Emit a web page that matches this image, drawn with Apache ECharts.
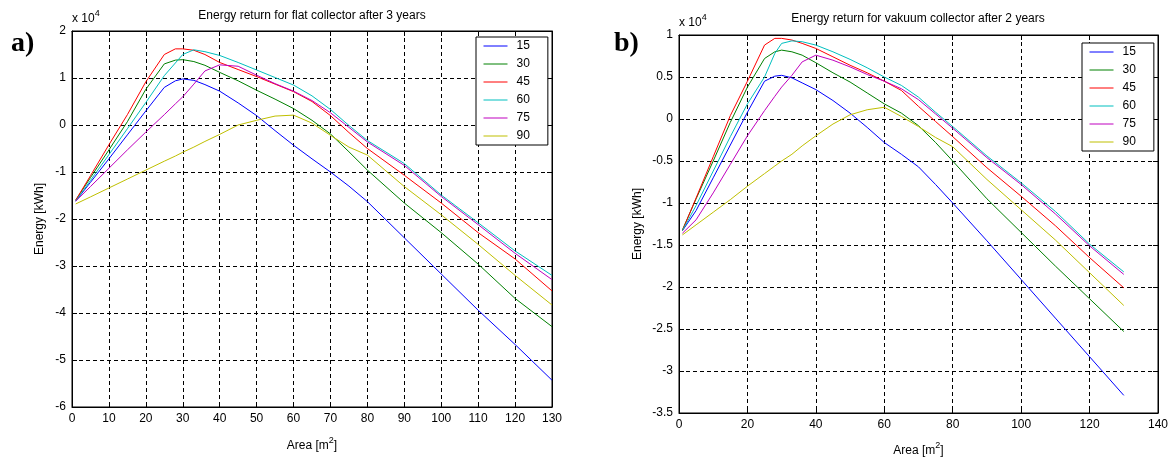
<!DOCTYPE html>
<html>
<head>
<meta charset="utf-8">
<script src="https://cdn.jsdelivr.net/npm/echarts@6/dist/echarts.min.js"></script>
<style>
html,body{margin:0;padding:0;background:#fff;}
#c{width:1176px;height:464px;}
</style>
</head>
<body>
<div id="c"></div>
<script>
// Area [m^2] sample positions (shared by all curves)
const areas = [1, 5, 10, 15, 20, 25, 28, 30, 33, 36, 40, 45, 50, 55, 60, 65, 70, 75, 80, 90, 100, 110, 120, 130];
const seriesNames = ['15', '30', '45', '60', '75', '90'];

// a) flat collector after 3 years, energy in units of 10^4 kWh
const flat15 = [-1.62, -1.22, -0.72, -0.21, 0.30, 0.80, 0.94, 0.98, 0.95, 0.86, 0.72, 0.47, 0.20, -0.12, -0.43, -0.72, -1.00, -1.30, -1.63, -2.40, -3.17, -3.94, -4.67, -5.43];
const flat30 = [-1.60, -1.12, -0.53, 0.07, 0.76, 1.30, 1.38, 1.39, 1.35, 1.27, 1.12, 0.94, 0.74, 0.55, 0.35, 0.10, -0.19, -0.57, -0.96, -1.66, -2.29, -2.96, -3.69, -4.29];
const flat45 = [-1.60, -1.08, -0.42, 0.22, 0.92, 1.50, 1.62, 1.62, 1.59, 1.50, 1.33, 1.18, 1.03, 0.87, 0.71, 0.50, 0.20, -0.16, -0.50, -1.07, -1.66, -2.29, -2.85, -3.53];
const flat60 = [-1.62, -1.18, -0.63, -0.08, 0.48, 1.05, 1.32, 1.50, 1.60, 1.56, 1.48, 1.33, 1.17, 1.01, 0.85, 0.62, 0.33, -0.01, -0.33, -0.82, -1.49, -2.08, -2.68, -3.20];
const flat75 = [-1.62, -1.31, -0.92, -0.53, -0.15, 0.22, 0.45, 0.60, 0.87, 1.15, 1.28, 1.25, 1.06, 0.88, 0.72, 0.52, 0.26, -0.05, -0.36, -0.86, -1.52, -2.12, -2.73, -3.29];
const flat90 = [-1.68, -1.53, -1.34, -1.15, -0.96, -0.77, -0.66, -0.58, -0.47, -0.35, -0.20, 0.00, 0.10, 0.19, 0.21, 0.04, -0.22, -0.47, -0.64, -1.31, -1.91, -2.54, -3.20, -3.83];

// b) vakuum collector after 2 years, energy in units of 10^4 kWh
const vac15 = [-1.33, -1.09, -0.70, -0.31, 0.08, 0.45, 0.51, 0.52, 0.49, 0.43, 0.35, 0.22, 0.07, -0.10, -0.28, -0.42, -0.57, -0.78, -1.00, -1.45, -1.91, -2.37, -2.83, -3.29];
const vac30 = [-1.32, -0.95, -0.50, -0.04, 0.38, 0.72, 0.80, 0.82, 0.80, 0.76, 0.67, 0.55, 0.44, 0.31, 0.18, 0.07, -0.08, -0.28, -0.50, -0.95, -1.35, -1.75, -2.14, -2.53];
const vac45 = [-1.33, -0.94, -0.45, 0.04, 0.45, 0.88, 0.96, 0.96, 0.94, 0.90, 0.84, 0.74, 0.64, 0.55, 0.45, 0.34, 0.15, -0.03, -0.21, -0.58, -0.92, -1.27, -1.65, -2.01];
const vac60 = [-1.33, -1.03, -0.62, -0.21, 0.18, 0.50, 0.78, 0.90, 0.93, 0.92, 0.88, 0.80, 0.71, 0.61, 0.50, 0.40, 0.26, 0.08, -0.09, -0.44, -0.76, -1.10, -1.49, -1.82];
const vac75 = [-1.36, -1.20, -0.88, -0.54, -0.20, 0.10, 0.27, 0.38, 0.52, 0.68, 0.76, 0.70, 0.62, 0.53, 0.45, 0.36, 0.23, 0.06, -0.11, -0.46, -0.78, -1.13, -1.51, -1.85];
const vac90 = [-1.38, -1.26, -1.11, -0.96, -0.80, -0.65, -0.56, -0.50, -0.42, -0.32, -0.20, -0.06, 0.05, 0.11, 0.14, 0.03, -0.09, -0.22, -0.33, -0.72, -1.08, -1.44, -1.83, -2.22];

const colors = ['#0000ff', '#008000', '#ff0000', '#00bfbf', '#bf00bf', '#bfbf00'];
const flatData = [flat15, flat30, flat45, flat60, flat75, flat90];
const vacData = [vac15, vac30, vac45, vac60, vac75, vac90];

const FONT = "'Liberation Sans', Arial, sans-serif";
const chart = echarts.init(document.getElementById('c'), null, {renderer: 'canvas'});

const richName = {
  n: {fontSize: 12, fontFamily: FONT, color: '#000', lineHeight: 16, verticalAlign: 'bottom'},
  s: {fontSize: 9, fontFamily: FONT, color: '#000', lineHeight: 9, verticalAlign: 'top'}
};

function mainX(gi, max, interval, gap) {
  return {
    type: 'value', gridIndex: gi, min: 0, max: max, interval: interval, position: 'bottom',
    name: '{n|Area [m}{s|2}{n|]}', nameLocation: 'middle', nameGap: gap,
    nameTextStyle: {rich: richName},
    axisLine: {show: true, onZero: false, lineStyle: {color: '#000', width: 1}},
    axisTick: {show: true, inside: true, length: 5, lineStyle: {color: '#000'}},
    axisLabel: {color: '#000', fontSize: 12, fontFamily: FONT, margin: 6},
    splitLine: {show: true, lineStyle: {color: '#000', type: [4, 3], width: 1}}
  };
}
function topX(gi, max, interval) {
  return {
    type: 'value', gridIndex: gi, min: 0, max: max, interval: interval, position: 'top',
    axisLine: {show: true, onZero: false, lineStyle: {color: '#000'}},
    axisTick: {show: true, inside: true, length: 5, lineStyle: {color: '#000'}},
    axisLabel: {show: false}, splitLine: {show: false}
  };
}
function mainY(gi, min, max, interval, gap) {
  return {
    type: 'value', gridIndex: gi, min: min, max: max, interval: interval, position: 'left',
    name: 'Energy [kWh]', nameLocation: 'middle', nameGap: gap,
    nameTextStyle: {color: '#000', fontSize: 12, fontFamily: FONT},
    axisLine: {show: true, onZero: false, lineStyle: {color: '#000', width: 1}},
    axisTick: {show: true, inside: true, length: 5, lineStyle: {color: '#000'}},
    axisLabel: {color: '#000', fontSize: 12, fontFamily: FONT, margin: 6},
    splitLine: {show: true, lineStyle: {color: '#000', type: [4, 3], width: 1}}
  };
}
function rightY(gi, min, max, interval) {
  return {
    type: 'value', gridIndex: gi, min: min, max: max, interval: interval, position: 'right',
    axisLine: {show: true, onZero: false, lineStyle: {color: '#000'}},
    axisTick: {show: true, inside: true, length: 5, lineStyle: {color: '#000'}},
    axisLabel: {show: false}, splitLine: {show: false}
  };
}

const series = [];
seriesNames.forEach((nm, i) => {
  series.push({
    name: nm, type: 'line', xAxisIndex: 0, yAxisIndex: 0,
    data: areas.map((a, k) => [a, flatData[i][k]]),
    symbol: 'none', showSymbol: false, smooth: false,
    color: colors[i], lineStyle: {color: colors[i], width: 1}
  });
});
seriesNames.forEach((nm, i) => {
  series.push({
    name: nm, type: 'line', xAxisIndex: 1, yAxisIndex: 1,
    data: areas.map((a, k) => [a, vacData[i][k]]),
    symbol: 'none', showSymbol: false, smooth: false,
    color: colors[i], lineStyle: {color: colors[i], width: 1}
  });
});

function legendAt(left, top) {
  return {
    show: true, orient: 'vertical', left: left, top: top, data: seriesNames,
    selectedMode: false,
    backgroundColor: '#fff', borderColor: '#000', borderWidth: 1, borderRadius: 0,
    padding: [3, 18, 3, 7], itemWidth: 24, itemHeight: 12, itemGap: 6,
    itemStyle: {opacity: 0},
    lineStyle: {width: 1, opacity: 1},
    textStyle: {color: '#000', fontSize: 12, fontFamily: FONT, padding: [0, 0, 0, 4]}
  };
}

const supRich = {
  a: {fontSize: 12, fontFamily: FONT, color: '#000', lineHeight: 16, verticalAlign: 'bottom'},
  b: {fontSize: 9, fontFamily: FONT, color: '#000', lineHeight: 9, verticalAlign: 'top'}
};

const option = {
  animation: false,
  backgroundColor: '#fff',
  grid: [
    {left: 72, top: 31, width: 480, height: 376, show: true, borderColor: '#000', borderWidth: 1, backgroundColor: 'transparent'},
    {left: 679, top: 35, width: 479, height: 378, show: true, borderColor: '#000', borderWidth: 1, backgroundColor: 'transparent'}
  ],
  xAxis: [mainX(0, 130, 10, 29), mainX(1, 140, 20, 28), topX(0, 130, 10), topX(1, 140, 20)],
  yAxis: [mainY(0, -6, 2, 1, 26), mainY(1, -3.5, 1, 0.5, 35), rightY(0, -6, 2, 1), rightY(1, -3.5, 1, 0.5)],
  legend: [legendAt(476, 37), legendAt(1082, 43)],
  series: series,
  graphic: [
    {type: 'text', left: 11, top: 30, style: {text: 'a)', font: "bold 28px 'Liberation Serif', 'Times New Roman', serif", fill: '#000'}},
    {type: 'text', left: 614, top: 30, style: {text: 'b)', font: "bold 28px 'Liberation Serif', 'Times New Roman', serif", fill: '#000'}},
    {type: 'text', x: 312, y: 16, style: {text: 'Energy return for flat collector after 3 years', font: "12px 'Liberation Sans', Arial, sans-serif", fill: '#000', align: 'center', verticalAlign: 'middle'}},
    {type: 'text', x: 918, y: 19, style: {text: 'Energy return for vakuum collector after 2 years', font: "12px 'Liberation Sans', Arial, sans-serif", fill: '#000', align: 'center', verticalAlign: 'middle'}},
    {type: 'text', left: 72, top: 9, style: {text: '{a|x 10}{b|4}', rich: supRich}},
    {type: 'text', left: 679, top: 13, style: {text: '{a|x 10}{b|4}', rich: supRich}}
  ]
};
chart.setOption(option);
</script>
</body>
</html>
